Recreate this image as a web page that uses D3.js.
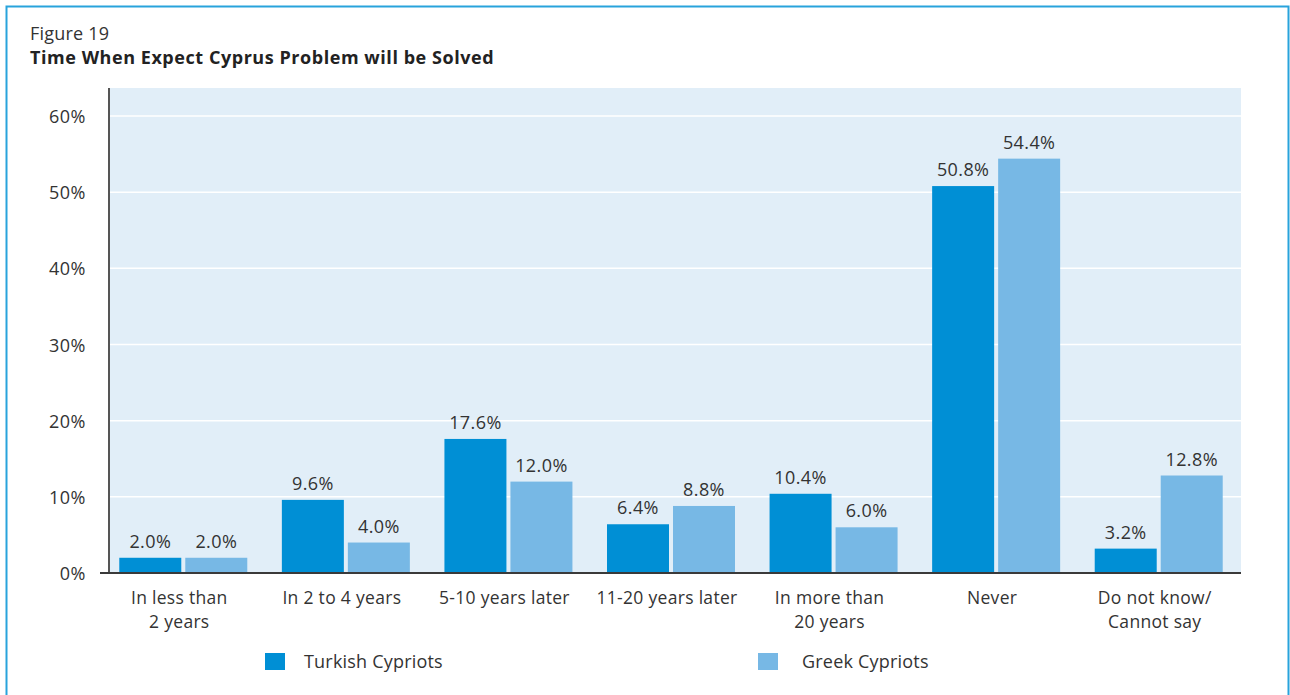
<!DOCTYPE html>
<html>
<head>
<meta charset="utf-8">
<script src="https://cdn.jsdelivr.net/npm/d3@7"></script>
<style>
body { margin: 0; background: #fff; }
svg { display: block; font-family: "Open Sans", "Noto Sans", sans-serif; }
</style>
</head>
<body>
<div id="chart"></div>
<script>
// data
var categories = [["In less than", "2 years"], ["In 2 to 4 years"], ["5-10 years later"], ["11-20 years later"], ["In more than", "20 years"], ["Never"], ["Do not know/", "Cannot say"]];
var turkish = [2.0, 9.6, 17.6, 6.4, 10.4, 50.8, 3.2];
var greek = [2.0, 4.0, 12.0, 8.8, 6.0, 54.4, 12.8];
var seriesNames = ["Turkish Cypriots", "Greek Cypriots"];
var yTicks = [0, 10, 20, 30, 40, 50, 60];

var width = 1290, height = 695;
var colors = ["#008fd5", "#77b8e5"];

var svg = d3.select("#chart").append("svg")
  .attr("width", width)
  .attr("height", height);

// frame
svg.append("path")
  .attr("d", "M6.5,695 L6.5,6.5 L1288.5,6.5 L1288.5,695")
  .attr("fill", "none")
  .attr("stroke", "#29a3dc")
  .attr("stroke-width", 2);

svg.append("text").attr("x", 30).attr("y", 40)
  .attr("font-size", 18).attr("fill", "#333").attr("letter-spacing", 0.2).text("Figure 19");
svg.append("text").attr("x", 30).attr("y", 64)
  .attr("font-size", 18).attr("font-weight", "bold").attr("fill", "#222")
  .attr("letter-spacing", 0.55)
  .text("Time When Expect Cyprus Problem will be Solved");

var x = d3.scaleBand()
  .domain(d3.range(categories.length))
  .range([102, 1240]);

var y = d3.scaleLinear()
  .domain([0, 60])
  .range([573, 116]);

// plot background
svg.append("rect")
  .attr("x", 109).attr("y", 88)
  .attr("width", 1241 - 109).attr("height", 573 - 88)
  .attr("fill", "#e1eef8");

// gridlines
svg.append("g").selectAll("line")
  .data(yTicks.slice(1))
  .enter().append("line")
  .attr("x1", 109).attr("x2", 1241)
  .attr("y1", function(d) { return y(d); })
  .attr("y2", function(d) { return y(d); })
  .attr("stroke", "#fff").attr("stroke-width", 1.5);

// y axis labels
svg.append("g").selectAll("text")
  .data(yTicks)
  .enter().append("text")
  .attr("x", 86)
  .attr("y", function(d) { return y(d) + 7; })
  .attr("text-anchor", "end")
  .attr("font-size", 18).attr("fill", "#333").attr("letter-spacing", 0.5)
  .text(function(d) { return d + "%"; });

var barW = 62, gap = 4;
var series = [turkish, greek];

series.forEach(function(vals, s) {
  var g = svg.append("g");
  g.selectAll("rect")
    .data(vals)
    .enter().append("rect")
    .attr("x", function(d, i) { return x(i) + x.bandwidth() / 2 - barW - gap / 2 + s * (barW + gap); })
    .attr("y", function(d) { return y(d); })
    .attr("width", barW)
    .attr("height", function(d) { return y(0) - y(d); })
    .attr("fill", colors[s]);
  g.selectAll("text")
    .data(vals)
    .enter().append("text")
    .attr("x", function(d, i) { return x(i) + x.bandwidth() / 2 - barW / 2 - gap / 2 + s * (barW + gap); })
    .attr("y", function(d) { return y(d) - 10; })
    .attr("text-anchor", "middle")
    .attr("font-size", 18).attr("fill", "#333").attr("letter-spacing", 0.4)
    .text(function(d) { return d.toFixed(1) + "%"; });
});

// axes lines
svg.append("line").attr("x1", 109).attr("x2", 109).attr("y1", 88).attr("y2", 574)
  .attr("stroke", "#555").attr("stroke-width", 2);
svg.append("line").attr("x1", 100).attr("x2", 1241).attr("y1", 573).attr("y2", 573)
  .attr("stroke", "#3a3a3a").attr("stroke-width", 2);

// category labels, one text per line
categories.forEach(function(lines, i) {
  svg.append("g").selectAll("text")
    .data(lines)
    .enter().append("text")
    .attr("x", x(i) + x.bandwidth() / 2 - 4)
    .attr("y", function(d, j) { return 604 + j * 24; })
    .attr("text-anchor", "middle")
    .attr("font-size", 17.5).attr("fill", "#333").attr("letter-spacing", 0.3)
    .text(function(d) { return d; });
});

// legend
var legendX = [265, 758];
seriesNames.forEach(function(name, s) {
  svg.append("rect").attr("x", legendX[s]).attr("y", 653)
    .attr("width", 20).attr("height", 17).attr("fill", colors[s]);
  svg.append("text").attr("x", legendX[s] + (s === 0 ? 39 : 44)).attr("y", 668)
    .attr("font-size", 18).attr("fill", "#333").attr("letter-spacing", 0.2).text(name);
});
</script>
</body>
</html>
